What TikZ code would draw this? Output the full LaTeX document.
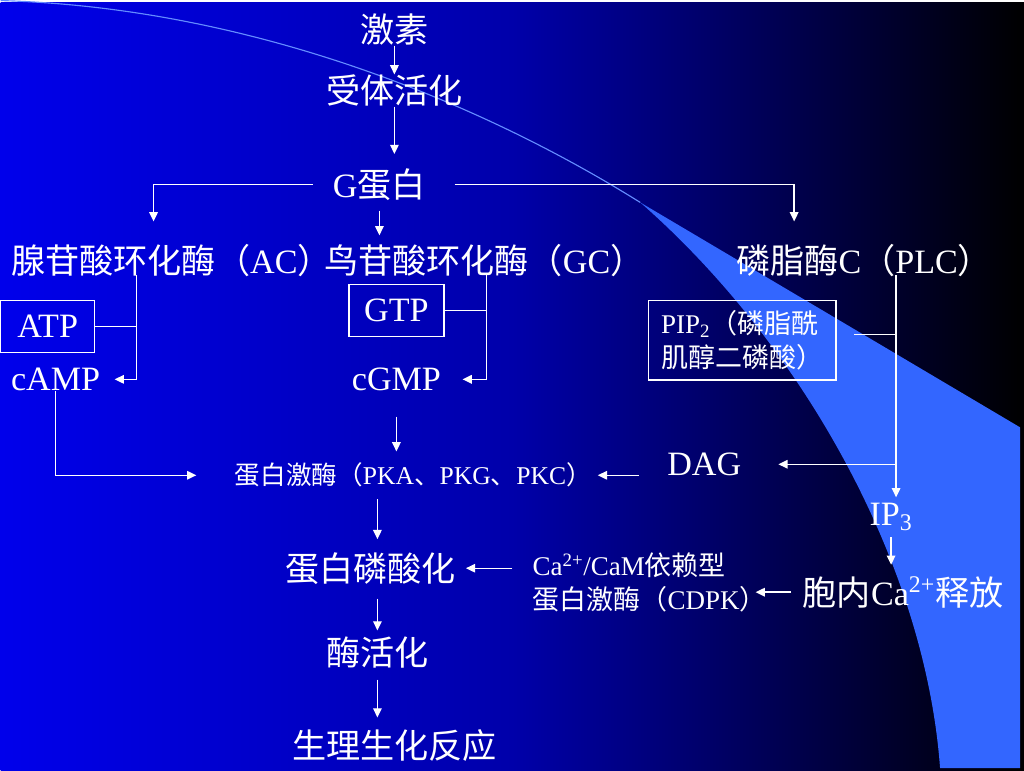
\documentclass[tikz,border=0pt]{standalone}
\usepackage{fontspec}
\setmainfont{Liberation Serif}
\newfontfamily\cjk{Noto Sans CJK SC}
\usetikzlibrary{arrows.meta}
\newcommand{\zh}[1]{{\cjk #1}}
\definecolor{slideblue}{RGB}{0,0,235}
\definecolor{midblue}{RGB}{0,0,170}
\definecolor{swoosh}{RGB}{51,102,255}
\definecolor{arcline}{RGB}{100,140,255}

\tikzset{
  big/.style={text=white, inner sep=0pt, font=\fontsize{24}{28}\selectfont},
  mid/.style={text=white, inner sep=0pt, font=\fontsize{19}{24}\selectfont, align=left},
  small/.style={text=white, inner sep=0pt, font=\fontsize{18}{22}\selectfont},
  sbox/.style={draw=white, line width=1pt},
  arr/.style={draw=white, line width=1pt, -{Triangle[length=6.5pt,width=6pt]}},
  ln/.style={draw=white, line width=1pt}
}

\begin{document}
\begin{tikzpicture}[x=0.703125pt, y=-0.703125pt]
% slide background
\shade[left color=slideblue, right color=black, middle color=midblue] (0,0) rectangle (1024,768);
\fill[swoosh] (640,200) -- (1020,425) -- (1020,766) -- (940,766)
  .. controls (925,560) and (800,340) .. (640,200) -- cycle;
\draw[arcline, line width=0.8pt] (0,-2) .. controls (250,5) and (480,100) .. (640,200);

% chain
\node[big] (hor) at (394,27) {\zh{激素}};
\node[big] (rec) at (394,88) {\zh{受体活化}};
\node[big] (gp) at (379,182) {G\zh{蛋白}};
\node[big] (ac) at (171,258) {\zh{腺苷酸环化酶（}AC\zh{）}};
\node[big] (gc) at (484,258) {\zh{鸟苷酸环化酶（}GC\zh{）}};
\node[big] (plc) at (864,258) {\zh{磷脂酶}C\zh{（}PLC\zh{）}};
\node[big, sbox, minimum width=66pt, minimum height=36.6pt] (atp) at (47,324) {ATP};
\node[big] (camp) at (55,377) {cAMP};
\node[big, sbox, minimum width=66.8pt, minimum height=36.6pt] (gtp) at (396,308) {GTP};
\node[big] (cgmp) at (396,377) {cGMP};
\node[mid, sbox, minimum width=132pt, minimum height=56pt] (pip) at (742,338)
  {PIP\textsubscript{2}\zh{（磷脂酰}\\\zh{肌醇二磷酸）}};
\node[big] (dag) at (704,462) {DAG};
\node[small] (pk) at (413,473) {\zh{蛋白激酶（}PKA\zh{、}PKG\zh{、}PKC\zh{）}};
\node[big] (ip3) at (891,515) {IP\textsubscript{3}};
\node[big] (phos) at (370,566) {\zh{蛋白磷酸化}};
\node[mid, anchor=west] (cdpk) at (532,580)
  {Ca\textsuperscript{2+}/CaM\zh{依赖型}\\\zh{蛋白激酶（}CDPK\zh{）}};
\node[big] (ca) at (903,590) {\zh{胞内}Ca\textsuperscript{2+}\zh{释放}};
\node[big] (enz) at (377,650) {\zh{酶活化}};
\node[big] (resp) at (394,743) {\zh{生理生化反应}};

% bends
\coordinate (acin) at (153,219);
\coordinate (plcin) at (794,219);
\coordinate (acdrop) at (136,273);
\coordinate (gcdrop) at (486,273);
\coordinate (plcdrop) at (896,273);
\coordinate (pipend) at (854,332);

\draw[arr] (hor) -- (rec);
\draw[arr, shorten >=10pt] (rec) -- (rec |- gp.north);
\draw[arr, shorten <=14pt] (gp.west) -| (acin);
\draw[arr, shorten <=20pt] (gp.east) -| (plcin);
\draw[arr, shorten <=7pt, shorten >=6pt] (gp.south) -- (gp.south |- gc.north);
\draw[ln] (atp) -- (atp -| acdrop);
\draw[arr, shorten >=10pt] (acdrop) |- (camp);
\draw[ln] (gtp) -- (gtp -| gcdrop);
\draw[arr, shorten >=15pt] (gcdrop) |- (cgmp);
\draw[ln] (pipend) -- (pipend -| plcdrop);
\draw[arr, shorten >=4pt] (plcdrop) -- (plcdrop |- ip3.north);
\draw[arr, shorten >=26pt] (plcdrop |- dag) -- (dag);
\draw[arr, shorten <=20pt, shorten >=4pt] (dag.west |- pk) -- (pk);
\draw[arr, shorten >=27pt] (camp.south) |- (pk);
\draw[arr, shorten <=18pt, shorten >=8pt] (cgmp.south) -- (cgmp.south |- pk.north);
\draw[arr, shorten <=8pt, shorten >=9pt] (pk.south -| enz) -- (enz |- phos.north);
\draw[arr, shorten <=4pt, shorten >=8pt] (ip3.south -| ip3) -- (ip3 |- ca.north);
\draw[arr, shorten <=8pt, shorten >=-8pt] (ca.west) -- (ca.west -| cdpk.east);
\draw[arr, shorten <=14pt, shorten >=7pt] (cdpk.west |- phos) -- (phos);
\draw[arr, shorten <=10pt, shorten >=4pt] (phos.south -| enz) -- (enz);
\draw[arr, shorten <=8pt, shorten >=8pt] (enz) -- (enz |- resp.north);
\end{tikzpicture}
\end{document}
